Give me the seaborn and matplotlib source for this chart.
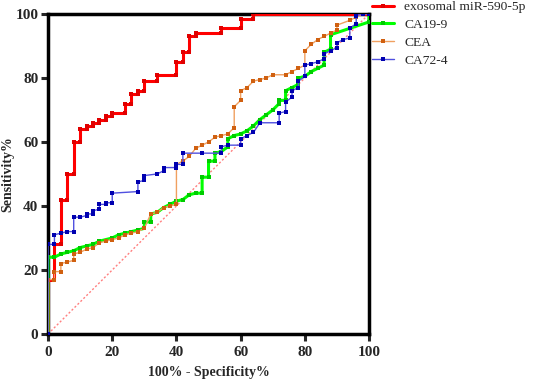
import numpy as np
import pandas as pd
import matplotlib
matplotlib.use('Agg')
import matplotlib.pyplot as plt
import seaborn as sns

# ROC points (100% - specificity, sensitivity)
red_x = [0, 0, 2, 2, 4, 4, 6, 6, 8, 8, 10, 10, 12, 12, 14, 14, 16, 16, 18, 18, 20, 20,
         24, 24, 26, 26, 28, 28, 30, 30, 34, 34, 40, 40, 42, 42, 44, 44, 46, 46,
         54, 54, 60, 60, 64, 64, 100]
red_y = [0, 17, 17, 28, 28, 42, 42, 50, 50, 60, 60, 64, 64, 65, 65, 66, 66, 67, 67, 68, 68, 69,
         69, 72, 72, 75, 75, 76, 76, 79, 79, 81, 81, 85, 85, 88, 88, 93, 93, 94,
         94, 95.5, 95.5, 98.5, 98.5, 100, 100]

green_x = [0, 0, 2, 4, 6, 8, 10, 12, 14, 16, 20, 22, 24, 26, 28, 30, 30, 32, 32, 34, 36, 38,
           40, 42, 44, 46, 48, 48, 50, 50, 52, 52, 54, 56, 56, 58, 60, 62, 64, 66, 68, 70,
           72, 72, 74, 74, 76, 78, 78, 80, 82, 84, 86, 86, 88, 88, 100, 100]
green_y = [0, 24, 24, 25, 25.5, 26, 27, 27.5, 28, 29, 30, 31, 31.5, 32, 32.5, 33, 35, 35, 37.5, 38, 39.5, 40.5,
           41.5, 42, 43.5, 44, 44, 49, 49, 54, 54, 56.5, 57, 58.5, 61, 62, 62.5, 63.5, 65, 67, 68.5, 70,
           72, 73, 73, 76, 77, 78, 80, 80.5, 82, 83, 84, 88, 89, 93.5, 97.5, 100]

orange_x = [0, 0, 2, 2, 4, 4, 6, 8, 8, 10, 12, 14, 16, 18, 20, 22, 24, 26, 28, 30, 32, 34, 36, 38,
            40, 40, 42, 44, 46, 48, 50, 52, 54, 56, 58, 58, 60, 60, 62, 64, 66, 68, 70, 74, 76, 78,
            80, 80, 82, 84, 86, 88, 90, 90, 94, 96, 98, 100]
orange_y = [0, 17, 17, 19.5, 19.5, 22, 22.5, 23, 25, 25.5, 26.5, 27, 28.5, 29, 29.5, 30, 31, 31.5, 32, 33, 37.5, 38, 39.5, 40,
            40.5, 53, 54, 55.5, 58, 59, 60, 61.5, 62, 62.5, 64.5, 71, 73, 76, 77, 79, 79.5, 80, 81, 81, 82, 83,
            84, 88.5, 90.5, 92, 93, 94, 95, 96.5, 98, 99, 100, 100]

blue_x = [0, 0, 2, 2, 4, 6, 8, 8, 10, 12, 12, 14, 14, 16, 16, 18, 18, 20, 20, 28, 28, 30, 30, 34,
          36, 36, 40, 40, 42, 42, 48, 54, 54, 56, 60, 60, 62, 64, 66, 72, 72, 74, 74, 76, 76, 78,
          78, 80, 80, 82, 84, 86, 86, 88, 90, 90, 92, 94, 94, 96, 96, 98, 100]
blue_y = [0, 28, 28, 31, 31.5, 32, 32, 36.5, 36.5, 37, 37.5, 37.5, 38.5, 39, 40.5, 40.5, 41, 41, 44, 44.5, 47.5, 48, 49.5, 50,
          51, 52, 52, 53, 53, 56.5, 56.5, 56.5, 58.5, 59, 59, 61, 62, 63, 66, 66, 69, 69.5, 72.5, 74, 76, 77,
          79, 80.5, 84, 84.5, 85, 86, 87.5, 88.5, 89.5, 91, 92, 92.5, 95.5, 97, 99.5, 100, 100]

names = ['exosomal miR-590-5p', 'CA19-9', 'CEA', 'CA72-4']
series_x = [red_x, green_x, orange_x, blue_x]
series_y = [red_y, green_y, orange_y, blue_y]
line_colors = ['#FF0000', '#00FF00', '#F0A060', '#5050E0']
marker_colors = ['#E00000', '#00CC00', '#D06010', '#0000B0']
widths = [2.2, 2.2, 1.0, 1.0]

sns.set_style('ticks')
plt.rcParams['font.family'] = ['Liberation Serif', 'DejaVu Serif']

fig = plt.figure(figsize=(5.33, 3.81), dpi=100)
ax = fig.add_axes([0.0901, 0.1234, 0.6023, 0.84])

# reference diagonal
ax.plot([0, 100], [0, 100], color='#FF8080', lw=1, ls=(0, (1.5, 1.5)), zorder=1)

for name, xs, ys, lc, mc, lw in zip(names, series_x, series_y, line_colors, marker_colors, widths):
    df = pd.DataFrame({'fpr': xs, 'tpr': ys})
    sns.lineplot(data=df, x='fpr', y='tpr', sort=False, estimator=None, ax=ax,
                 color=lc, lw=lw, marker='s', markersize=2.2, markeredgewidth=0,
                 markerfacecolor=mc, label=name, zorder=3)

ax.set_xlim(0, 100)
ax.set_ylim(0, 100)
ax.set_xticks([0, 20, 40, 60, 80, 100])
ax.set_yticks([0, 20, 40, 60, 80, 100])
for s in ax.spines.values():
    s.set_linewidth(2.5)
    s.set_color('black')
ax.tick_params(width=2.2, length=5, labelsize=11)
ax.tick_params(axis='y', pad=2)
ax.tick_params(axis='x', pad=4)
for lab in ax.get_xticklabels() + ax.get_yticklabels():
    lab.set_fontweight('bold')
ax.set_xlabel('100% - Specificity%', fontsize=10, fontweight='bold', labelpad=5)
ax.set_ylabel('Sensitivity%', fontsize=10, fontweight='bold', labelpad=1)

ax.get_legend().remove()
handles, labels = ax.get_legend_handles_labels()
fig.legend(handles, labels, loc='upper left', bbox_to_anchor=(0.688, 1.012),
           frameon=False, fontsize=9.7, handlelength=1.6, labelspacing=0.4,
           borderaxespad=0, handletextpad=0.8)

fig.savefig('out.png', dpi=100)
